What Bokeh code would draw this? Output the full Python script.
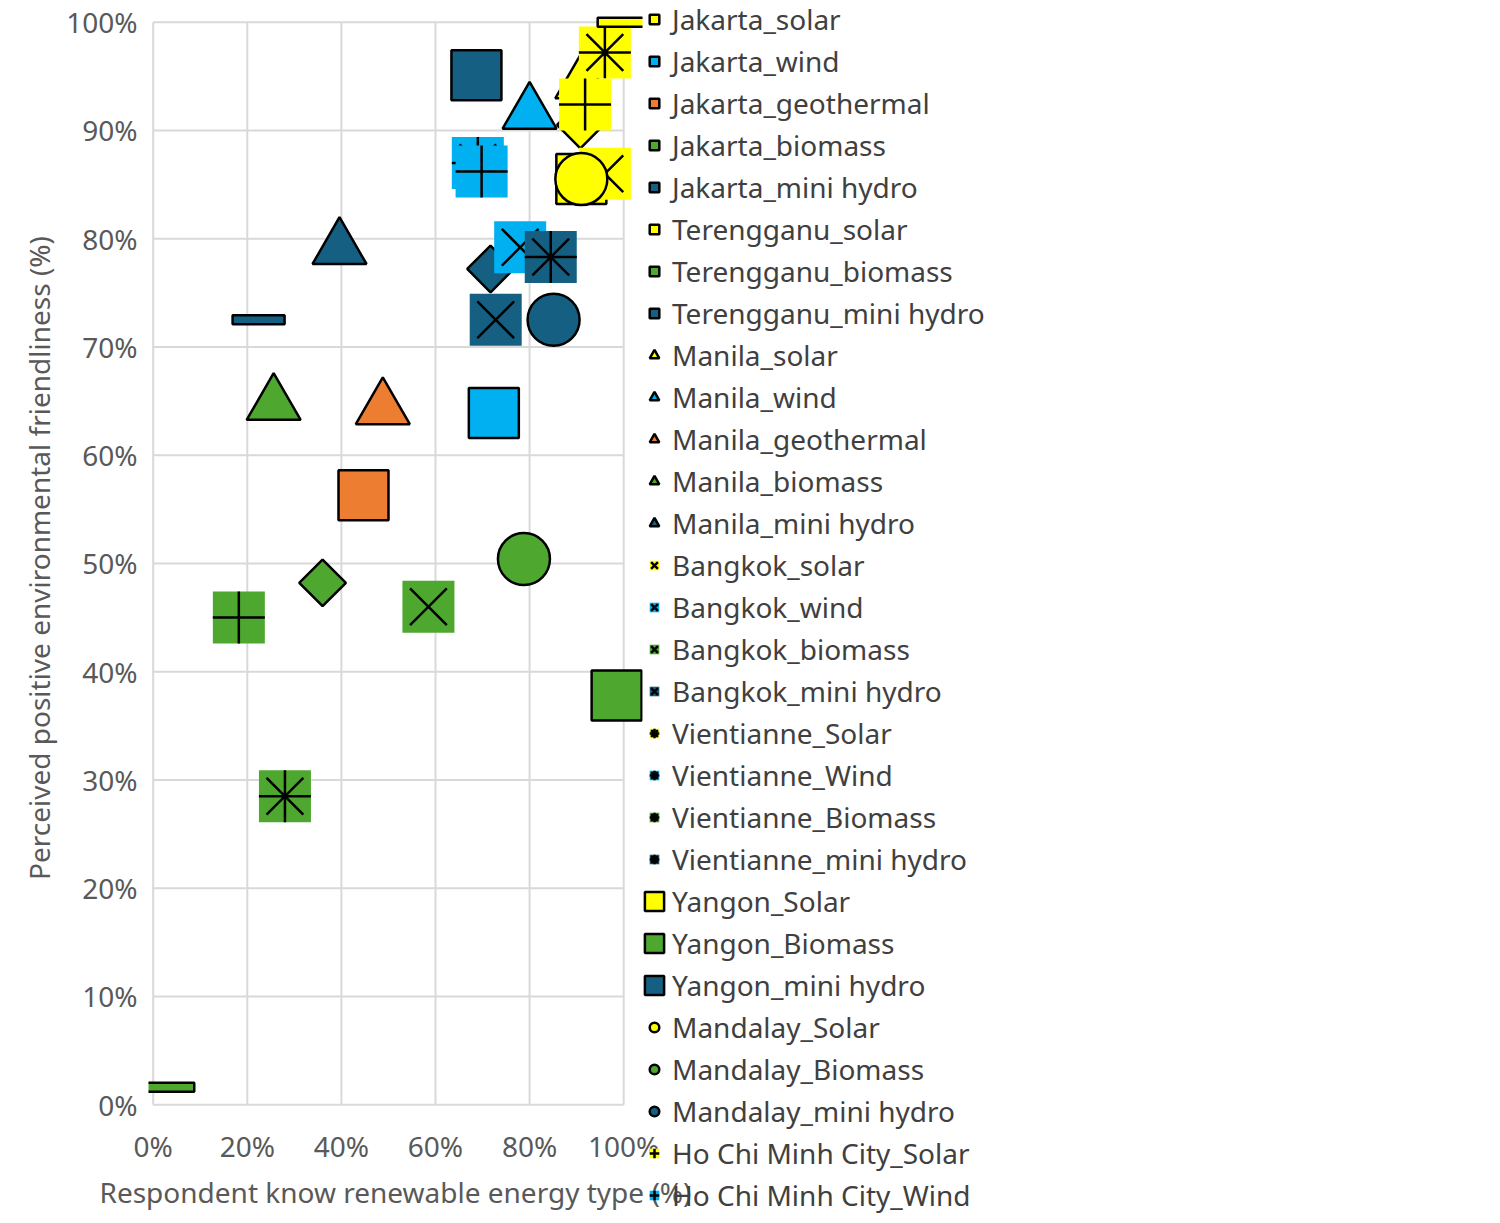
import numpy as np
from bokeh.plotting import figure
from bokeh.models import Legend, LegendItem, NumeralTickFormatter, ColumnDataSource, FixedTicker
from bokeh.embed import file_html
from bokeh.resources import INLINE

names = ["Jakarta_solar","Jakarta_wind","Jakarta_geothermal","Jakarta_biomass","Jakarta_mini hydro",
         "Terengganu_solar","Terengganu_biomass","Terengganu_mini hydro",
         "Manila_solar","Manila_wind","Manila_geothermal","Manila_biomass","Manila_mini hydro",
         "Bangkok_solar","Bangkok_wind","Bangkok_biomass","Bangkok_mini hydro",
         "Vientianne_Solar","Vientianne_Wind","Vientianne_Biomass","Vientianne_mini hydro",
         "Yangon_Solar","Yangon_Biomass","Yangon_mini hydro",
         "Mandalay_Solar","Mandalay_Biomass","Mandalay_mini hydro",
         "Ho Chi Minh City_Solar","Ho Chi Minh City_Wind","Ho Chi Minh City_Biomass"]
know = [0.91,0.724,0.447,0.985,0.687, 0.908,0.36,0.717, 0.912,0.80,0.488,0.256,0.396,
        0.96,0.78,0.585,0.728, 0.96,0.69,0.28,0.845, 1.0,0.032,0.224, 0.91,0.788,0.851,
        0.918,0.698,0.182]
friendly = [0.855,0.639,0.563,0.378,0.951, 0.905,0.482,0.772, 0.944,0.916,0.643,0.647,0.791,
            0.86,0.792,0.46,0.725, 0.972,0.87,0.285,0.783, 1.0,0.016,0.725, 0.855,0.504,0.725,
            0.924,0.862,0.45]
kinds = ["sq"]*5 + ["dia"]*3 + ["tri"]*5 + ["x"]*4 + ["ast"]*4 + ["dash"]*3 + ["circ"]*3 + ["plus"]*3
colors = ["#FFFF00","#00B0F0","#ED7D31","#4EA72E","#156082",
          "#FFFF00","#4EA72E","#156082",
          "#FFFF00","#00B0F0","#ED7D31","#4EA72E","#156082",
          "#FFFF00","#00B0F0","#4EA72E","#156082",
          "#FFFF00","#00B0F0","#4EA72E","#156082",
          "#FFFF00","#4EA72E","#156082",
          "#FFFF00","#4EA72E","#156082",
          "#FFFF00","#00B0F0","#4EA72E"]
xticks = [0, 0.2, 0.4, 0.6, 0.8, 1.0]
yticks = [i/10 for i in range(11)]

FONT = "Noto Sans"
p = figure(width=1490, height=1215, x_range=(-0.01,1.04), y_range=(-0.01,1.02),
           output_backend="svg", toolbar_location=None,
           min_border_left=148, min_border_right=448, min_border_top=0, min_border_bottom=100)
p.outline_line_color = None
p.xaxis.ticker = FixedTicker(ticks=xticks)
p.yaxis.ticker = FixedTicker(ticks=yticks)
for ax in (p.xaxis[0], p.yaxis[0]):
    ax.formatter = NumeralTickFormatter(format="0%")
    ax.major_label_text_font_size = "28px"
    ax.major_label_text_color = "#595959"
    ax.major_label_text_font = FONT
    ax.axis_label_text_font_size = "28px"
    ax.axis_label_text_color = "#595959"
    ax.axis_label_text_font = FONT
    ax.axis_label_text_font_style = "normal"
    ax.major_tick_line_color = None
    ax.minor_tick_line_color = None
    ax.axis_line_color = None
p.xaxis.axis_label = "Respondent know renewable energy type (%)"
p.yaxis.axis_label = "Perceived positive environmental friendliness (%)"
p.grid.grid_line_color = None

# grid limited to 0..1
p.segment(x0=xticks, x1=xticks, y0=[0]*6, y1=[1]*6, line_color="#d9d9d9", line_width=2)
p.segment(x0=[0]*11, x1=[1]*11, y0=yticks, y1=yticks, line_color="#d9d9d9", line_width=2)

items = []
for n, x, y, k, c in zip(names, know, friendly, kinds, colors):
    src = ColumnDataSource(dict(x=[x], y=[y]))
    rs = []
    if k == "sq":
        rs.append(p.scatter("x","y",source=src,marker="square",size=50,fill_color=c,line_color="black",line_width=2.5))
    elif k == "dia":
        rs.append(p.scatter("x","y",source=src,marker="square",angle=np.pi/4,size=33,fill_color=c,line_color="black",line_width=2.5))
    elif k == "tri":
        rs.append(p.scatter("x","y",source=src,marker="triangle",size=54,fill_color=c,line_color="black",line_width=2.5))
    elif k == "circ":
        rs.append(p.scatter("x","y",source=src,marker="circle",size=52,fill_color=c,line_color="black",line_width=2.5))
    elif k in ("x","ast","plus"):
        rs.append(p.scatter("x","y",source=src,marker="square",size=52,fill_color=c,line_color=None))
        m = {"x":"x","ast":"asterisk","plus":"cross"}[k]
        rs.append(p.scatter("x","y",source=src,marker=m,size=52,line_color="black",line_width=2.5))
    elif k == "dash":
        rs.append(p.rect("x","y",source=src,width=52,height=9,width_units="screen",height_units="screen",
                         fill_color=c,line_color="black",line_width=2.5))
    items.append(LegendItem(label=n, renderers=rs))

leg = Legend(items=items, location="top_left", label_text_font=FONT, label_text_font_size="28px",
             label_text_color="#404040", glyph_width=24, glyph_height=24, label_height=37,
             spacing=4, padding=0, margin=0, border_line_color=None, background_fill_alpha=0,
             label_standoff=6)
p.add_layout(leg, "right")

open("out.html","w").write(file_html(p, INLINE))
